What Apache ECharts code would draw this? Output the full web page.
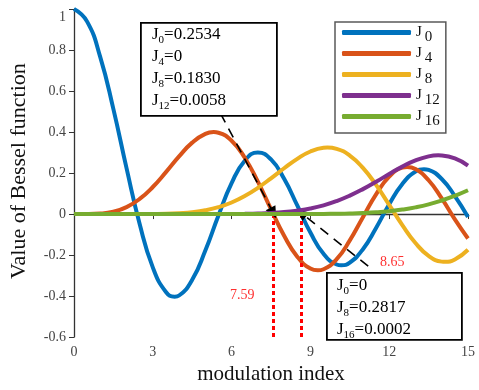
<!DOCTYPE html>
<html>
<head>
<meta charset="utf-8">
<script src="https://cdn.jsdelivr.net/npm/echarts@6/dist/echarts.min.js"></script>
<style>html,body{margin:0;padding:0;background:#fff}#c{width:479px;height:390px}</style>
</head>
<body>
<div id="c"></div>
<script>
// modulation index samples
const xValues = [0,0.5,1,1.5,2,2.5,3,3.5,4,4.5,5,5.5,6,6.5,7,7.5,8,8.5,9,9.5,10,10.5,11,11.5,12,12.5,13,13.5,14,14.5,15];
// Bessel function values read for each sample
const J0  = [1,0.9385,0.7652,0.5118,0.2239,-0.0484,-0.2601,-0.3801,-0.3971,-0.3205,-0.1776,-0.0068,0.1506,0.2601,0.3001,0.2663,0.1717,0.0419,-0.0903,-0.1939,-0.2459,-0.2366,-0.1712,-0.0677,0.0477,0.1469,0.2069,0.2150,0.1711,0.0875,-0.0142];
const J4  = [0,0.0002,0.0025,0.0118,0.0340,0.0737,0.1320,0.2044,0.2811,0.3484,0.3912,0.3967,0.3576,0.2748,0.1578,0.0238,-0.1054,-0.2077,-0.2655,-0.2691,-0.2196,-0.1283,-0.0150,0.0963,0.1825,0.2262,0.2193,0.1649,0.0762,-0.0262,-0.1192];
const J8  = [0,0,0,0,0,0.0001,0.0005,0.0015,0.0044,0.0091,0.0184,0.0337,0.0565,0.0881,0.1280,0.1743,0.2235,0.2694,0.3051,0.3233,0.3179,0.2850,0.2250,0.1421,0.0451,-0.0538,-0.1410,-0.2036,-0.2320,-0.2214,-0.1740];
const J12 = [0,0,0,0,0,0,0,0,0,0,0.0001,0.0002,0.0005,0.0013,0.0027,0.0052,0.0096,0.0170,0.0273,0.0425,0.0634,0.0899,0.1216,0.1575,0.1953,0.2314,0.2615,0.2811,0.2855,0.2712,0.2367];
const J16 = [0,0,0,0,0,0,0,0,0,0,0,0,0,0,0,0,0.0001,0.0002,0.0004,0.0008,0.0016,0.0029,0.0051,0.0086,0.0140,0.0218,0.0327,0.0472,0.0662,0.0892,0.1161];
// turning points of each curve [x, value]
const J0Peaks  = [[3.8317,-0.4028],[10.1735,-0.2497],[13.3237,0.2184]];
const J4Peaks  = [[5.3176,0.3997],[9.2824,-0.2741],[12.6819,0.2294]];
const J8Peaks  = [[9.6474,0.3244],[14.1155,-0.2329]];
const J12Peaks = [[13.868,0.2862]];
const J16Peaks = [];
const seriesNames = ['J0','J4','J8','J12','J16'];
const seriesValues = [J0, J4, J8, J12, J16];
const seriesPeaks = [J0Peaks, J4Peaks, J8Peaks, J12Peaks, J16Peaks];
const colors = ['#0072BD','#D95319','#EDB120','#7E2F8E','#77AC30'];
const xTicks = {min: 0, max: 15, interval: 3};
const yTicks = {min: -0.6, max: 1, interval: 0.2};
// marked points
const markX = [7.59, 8.65];
const box1Lines = [['0','=0.2534'],['4','=0'],['8','=0.1830'],['12','=0.0058']];
const box2Lines = [['0','=0'],['8','=0.2817'],['16','=0.0002']];

const serif = '"Liberation Serif","Times New Roman",serif';
const red = '#cc1f26';

const chart = echarts.init(document.getElementById('c'), null, {renderer: 'canvas'});

const series = seriesNames.map((n, i) => {
  const pts = xValues.map((x, k) => [x, seriesValues[i][k]]).concat(seriesPeaks[i]);
  pts.sort((a, b) => a[0] - b[0]);
  return {
    name: n, type: 'line', showSymbol: false, smooth: 0.5,
    data: pts,
    lineStyle: {width: 4, color: colors[i]}, itemStyle: {color: colors[i]}, z: 2 + i
  };
});

series.push({
  name: 'marks', type: 'line', data: [], z: 20,
  markLine: {
    silent: true, animation: false,
    label: {show: false},
    data: [
      [{coord: [markX[0], 0], symbol: 'none', lineStyle: {color: '#ff0000', width: 3, type: [4, 3]}},
       {coord: [markX[0], -0.6], symbol: 'none'}],
      [{coord: [markX[1], 0], symbol: 'none', lineStyle: {color: '#ff0000', width: 3, type: [4, 3]}},
       {coord: [markX[1], -0.6], symbol: 'none'}],
      [{coord: [5.58, 0.49], symbol: 'none', lineStyle: {color: '#000', width: 1.6, type: [10, 7]}},
       {coord: [markX[0], 0.005], symbol: 'triangle', symbolSize: [11, 12]}],
      [{coord: [11.2, -0.254], symbol: 'none', lineStyle: {color: '#000', width: 1.6, type: [10, 7]}},
       {coord: [markX[1], 0.005], symbol: 'triangle', symbolSize: [11, 12]}]
    ]
  }
});

function boxText(lines) {
  return lines.map(l => '{a|J}{s|' + l[0] + '}{a|' + l[1] + '}').join('\n');
}
const boxRich = {
  a: {fontFamily: serif, fontSize: 17, color: red, lineHeight: 22, verticalAlign: 'middle'},
  s: {fontFamily: serif, fontSize: 11, color: red, lineHeight: 11, verticalAlign: 'bottom'}
};

chart.setOption({
  animation: false,
  grid: {left: 73, right: 11, top: 9, bottom: 48},
  legend: {
    orient: 'vertical', left: 335, top: 22,
    padding: [3, 6, 4, 7], itemGap: 1,
    itemWidth: 69, itemHeight: 5, icon: 'roundRect',
    borderColor: '#595959', borderWidth: 1.5, borderRadius: 0,
    data: seriesNames,
    formatter: n => '{j|J}{s|' + n.slice(1) + '}',
    textStyle: {
      rich: {
        j: {fontFamily: serif, fontSize: 15, color: '#111', lineHeight: 15, verticalAlign: 'top'},
        s: {fontFamily: serif, fontSize: 15, color: '#111', lineHeight: 15, verticalAlign: 'top', padding: [5, 0, 0, 3]}
      }
    }
  },
  xAxis: {
    type: 'value', min: xTicks.min, max: xTicks.max, interval: xTicks.interval,
    name: 'modulation index', nameLocation: 'middle', nameGap: 24,
    nameTextStyle: {fontFamily: serif, fontSize: 21, color: '#111'},
    axisLine: {lineStyle: {color: '#333', width: 1.3}},
    axisTick: {show: true, length: 5, lineStyle: {color: '#333'}},
    axisLabel: {fontFamily: serif, fontSize: 14, color: '#444', margin: 8},
    splitLine: {show: false}
  },
  yAxis: {
    type: 'value', min: yTicks.min, max: yTicks.max, interval: yTicks.interval,
    name: 'Value of Bessel function', nameLocation: 'middle', nameGap: 44,
    nameTextStyle: {fontFamily: serif, fontSize: 22, color: '#111', padding: [0, 0, 0, 4]},
    axisLine: {show: true, lineStyle: {color: '#333', width: 1.3}},
    axisTick: {show: true, length: 5, lineStyle: {color: '#333'}},
    axisLabel: {
      fontFamily: serif, fontSize: 14, color: '#444', margin: 8,
      formatter: v => (Math.abs(v - yTicks.max) < 1e-9 ? '{t|1}' : String(Math.round(v * 10) / 10)),
      rich: {t: {fontFamily: serif, fontSize: 14, color: '#444', padding: [17, 0, 0, 0]}}
    },
    splitLine: {show: false}
  },
  graphic: [
    {type: 'rect', left: 140, top: 22, shape: {width: 136, height: 93},
     style: {fill: '#fff', stroke: '#000', lineWidth: 1.8}, z: 30},
    {type: 'text', left: 152, top: 26, z: 31,
     style: {text: boxText(box1Lines), rich: boxRich}},
    {type: 'rect', left: 326, top: 272, shape: {width: 135, height: 67},
     style: {fill: '#fff', stroke: '#000', lineWidth: 1.8}, z: 30},
    {type: 'text', left: 337, top: 277, z: 31,
     style: {text: boxText(box2Lines), rich: boxRich}},
    {type: 'text', left: 230, top: 288, z: 31,
     style: {text: '7.59', fontFamily: serif, fontSize: 14, fill: '#ff3030'}},
    {type: 'text', left: 380, top: 255, z: 31,
     style: {text: '8.65', fontFamily: serif, fontSize: 14, fill: '#ff3030'}}
  ],
  series: series
});
</script>
</body>
</html>
